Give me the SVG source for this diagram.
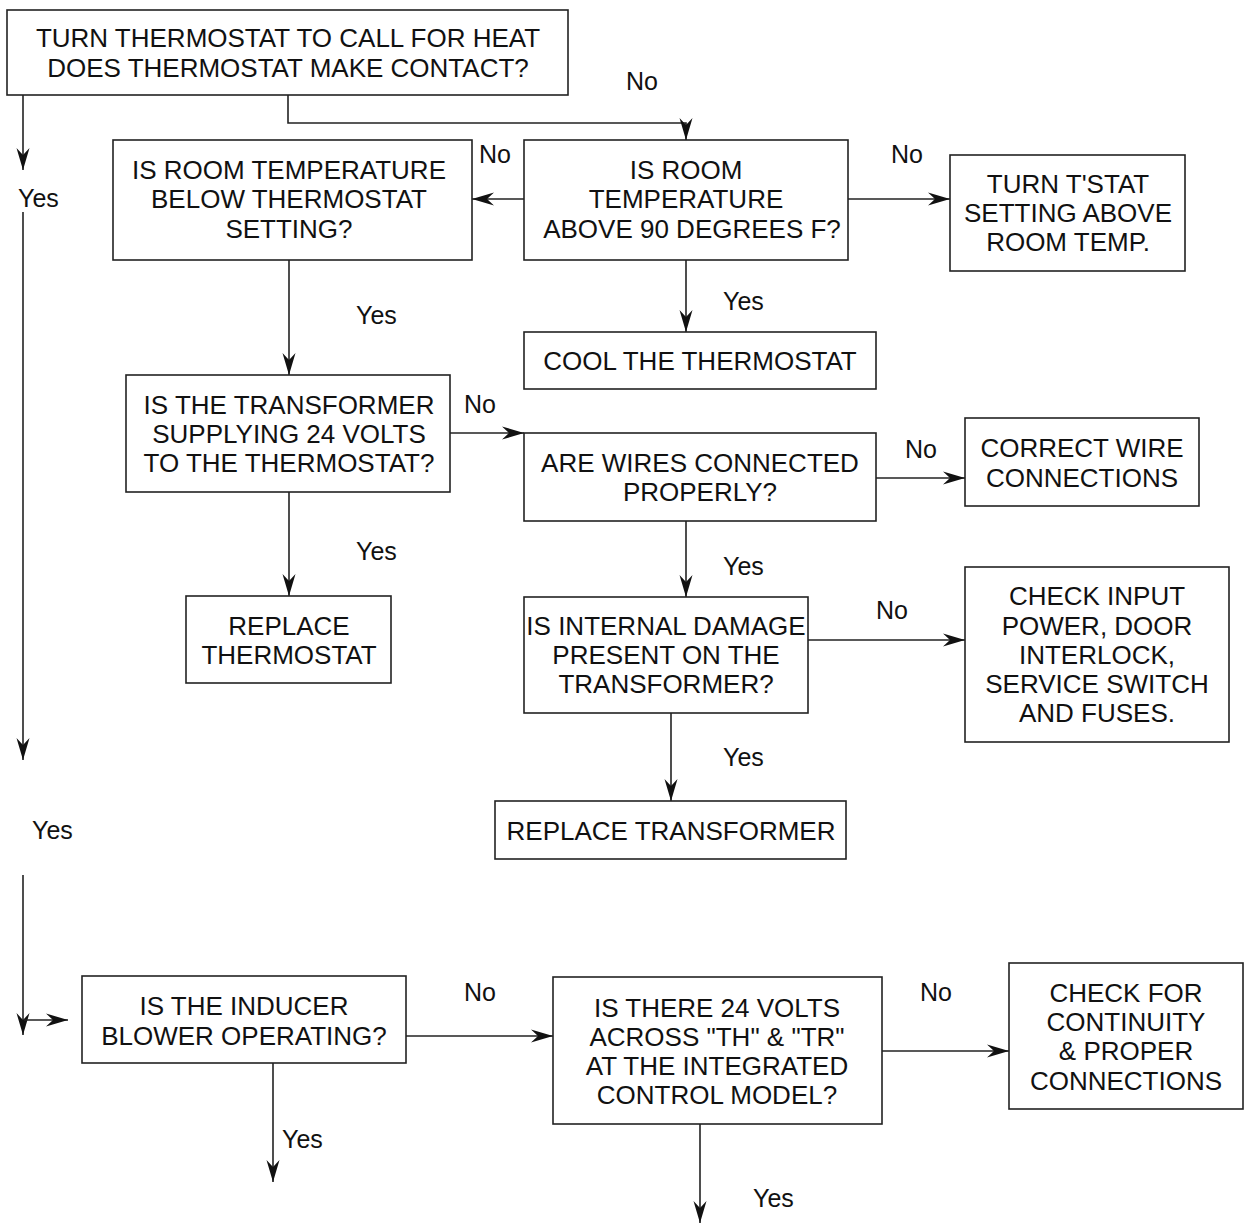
<svg xmlns="http://www.w3.org/2000/svg" width="1246" height="1226" viewBox="0 0 1246 1226">
<defs>
<marker id="ah" markerUnits="userSpaceOnUse" markerWidth="26" markerHeight="16" viewBox="-24 -8 26 16" refX="0" refY="0" orient="auto">
<path d="M0,0 L-22,-6.5 L-15,0 L-22,6.5 Z" fill="#111"/>
</marker>
</defs>
<style>
rect{fill:#fff;stroke:#222;stroke-width:1.6}
text{font-family:"Liberation Sans",Arial,sans-serif;fill:#111}
.b text{font-size:26px;text-anchor:middle}
.l{font-size:25px}
#connectors path{fill:none;stroke:#222;stroke-width:1.6}
.a{marker-end:url(#ah)}
</style>
<rect x="0" y="0" width="1246" height="1226" style="fill:#fff;stroke:none"/>

<g id="connectors">
<path d="M288,95 V123 H686 V140" class="a"/>
<path d="M23,95 V170" class="a"/>
<path d="M23,212 V760" class="a"/>
<path d="M23,875 V1035" class="a"/>
<path d="M24,1020 H68" class="a"/>
<path d="M524,199 H472" class="a"/>
<path d="M848,199 H950" class="a"/>
<path d="M686,260 V332" class="a"/>
<path d="M289,260 V375" class="a"/>
<path d="M450,433 H524" class="a"/>
<path d="M876,478 H965" class="a"/>
<path d="M686,521 V597" class="a"/>
<path d="M808,640 H965" class="a"/>
<path d="M671,713 V801" class="a"/>
<path d="M289,492 V596" class="a"/>
<path d="M406,1036 H553" class="a"/>
<path d="M882,1051 H1009" class="a"/>
<path d="M273,1063 V1182" class="a"/>
<path d="M700,1124 V1223" class="a"/>
</g>

<g id="labels" class="l">
<text x="626" y="90" class="l">No</text>
<text x="18" y="207" class="l">Yes</text>
<text x="32" y="839" class="l">Yes</text>
<text x="479" y="163" class="l">No</text>
<text x="891" y="163" class="l">No</text>
<text x="723" y="310" class="l">Yes</text>
<text x="356" y="324" class="l">Yes</text>
<text x="464" y="413" class="l">No</text>
<text x="905" y="458" class="l">No</text>
<text x="723" y="575" class="l">Yes</text>
<text x="876" y="619" class="l">No</text>
<text x="723" y="766" class="l">Yes</text>
<text x="356" y="560" class="l">Yes</text>
<text x="464" y="1001" class="l">No</text>
<text x="920" y="1001" class="l">No</text>
<text x="282" y="1148" class="l">Yes</text>
<text x="753" y="1207" class="l">Yes</text>
</g>

<g id="n1" class="b"><rect x="7" y="10" width="561" height="85"/>
<text x="288" y="47">TURN THERMOSTAT TO CALL FOR HEAT</text>
<text x="288" y="77">DOES THERMOSTAT MAKE CONTACT?</text></g>

<g id="n2" class="b"><rect x="524" y="140" width="324" height="120"/>
<text x="686" y="179">IS ROOM</text>
<text x="686" y="208">TEMPERATURE</text>
<text x="692" y="238">ABOVE 90 DEGREES F?</text></g>

<g id="n3" class="b"><rect x="113" y="140" width="359" height="120"/>
<text x="289" y="179">IS ROOM TEMPERATURE</text>
<text x="289" y="208">BELOW THERMOSTAT</text>
<text x="289" y="238">SETTING?</text></g>

<g id="n4" class="b"><rect x="950" y="155" width="235" height="116"/>
<text x="1068" y="193">TURN T'STAT</text>
<text x="1068" y="222">SETTING ABOVE</text>
<text x="1068" y="251">ROOM TEMP.</text></g>

<g id="n5" class="b"><rect x="524" y="332" width="352" height="57"/>
<text x="700" y="370">COOL THE THERMOSTAT</text></g>

<g id="n6" class="b"><rect x="126" y="375" width="324" height="117"/>
<text x="289" y="414">IS THE TRANSFORMER</text>
<text x="289" y="443">SUPPLYING 24 VOLTS</text>
<text x="289" y="472">TO THE THERMOSTAT?</text></g>

<g id="n7" class="b"><rect x="524" y="433" width="352" height="88"/>
<text x="700" y="472">ARE WIRES CONNECTED</text>
<text x="700" y="501">PROPERLY?</text></g>

<g id="n8" class="b"><rect x="965" y="418" width="234" height="88"/>
<text x="1082" y="457">CORRECT WIRE</text>
<text x="1082" y="487">CONNECTIONS</text></g>

<g id="n9" class="b"><rect x="524" y="597" width="284" height="116"/>
<text x="666" y="635">IS INTERNAL DAMAGE</text>
<text x="666" y="664">PRESENT ON THE</text>
<text x="666" y="693">TRANSFORMER?</text></g>

<g id="n10" class="b"><rect x="965" y="567" width="264" height="175"/>
<text x="1097" y="605">CHECK INPUT</text>
<text x="1097" y="635">POWER, DOOR</text>
<text x="1097" y="664">INTERLOCK,</text>
<text x="1097" y="693">SERVICE SWITCH</text>
<text x="1097" y="722">AND FUSES.</text></g>

<g id="n11" class="b"><rect x="495" y="801" width="351" height="58"/>
<text x="671" y="840">REPLACE TRANSFORMER</text></g>

<g id="n12" class="b"><rect x="186" y="596" width="205" height="87"/>
<text x="289" y="635">REPLACE</text>
<text x="289" y="664">THERMOSTAT</text></g>

<g id="n13" class="b"><rect x="82" y="976" width="324" height="87"/>
<text x="244" y="1015">IS THE INDUCER</text>
<text x="244" y="1045">BLOWER OPERATING?</text></g>

<g id="n14" class="b"><rect x="553" y="977" width="329" height="147"/>
<text x="717" y="1017">IS THERE 24 VOLTS</text>
<text x="717" y="1046">ACROSS "TH" &amp; "TR"</text>
<text x="717" y="1075">AT THE INTEGRATED</text>
<text x="717" y="1104">CONTROL MODEL?</text></g>

<g id="n15" class="b"><rect x="1009" y="963" width="234" height="146"/>
<text x="1126" y="1002">CHECK FOR</text>
<text x="1126" y="1031">CONTINUITY</text>
<text x="1126" y="1060">&amp; PROPER</text>
<text x="1126" y="1090">CONNECTIONS</text></g>
</svg>
